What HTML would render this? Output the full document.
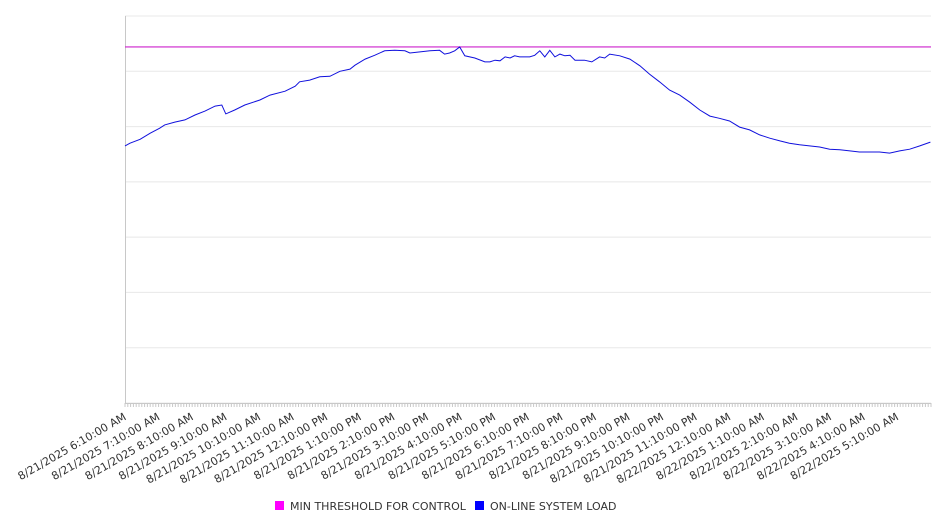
<!DOCTYPE html>
<html><head><meta charset="utf-8"><style>
body{margin:0;background:#fff;font-family:"DejaVu Sans","Liberation Sans",sans-serif;}
svg text{font-family:"DejaVu Sans","Liberation Sans",sans-serif;}
</style></head><body>
<svg id="chart" width="946" height="526" xmlns="http://www.w3.org/2000/svg">
<g id="grid"></g>
<g id="xaxis"></g>
<g id="series"></g>
<g>
<rect x="275" y="501" width="9" height="9" fill="#ff00ff"/>
<text x="290" y="510" font-size="11" fill="#333">MIN THRESHOLD FOR CONTROL</text>
<rect x="475" y="501" width="9" height="9" fill="#0000ff"/>
<text x="490" y="510" font-size="11" fill="#333">ON-LINE SYSTEM LOAD</text>
</g>
</svg>
<script>
const tickLabels=["8/21/2025 6:10:00 AM","8/21/2025 7:10:00 AM","8/21/2025 8:10:00 AM","8/21/2025 9:10:00 AM","8/21/2025 10:10:00 AM","8/21/2025 11:10:00 AM","8/21/2025 12:10:00 PM","8/21/2025 1:10:00 PM","8/21/2025 2:10:00 PM","8/21/2025 3:10:00 PM","8/21/2025 4:10:00 PM","8/21/2025 5:10:00 PM","8/21/2025 6:10:00 PM","8/21/2025 7:10:00 PM","8/21/2025 8:10:00 PM","8/21/2025 9:10:00 PM","8/21/2025 10:10:00 PM","8/21/2025 11:10:00 PM","8/22/2025 12:10:00 AM","8/22/2025 1:10:00 AM","8/22/2025 2:10:00 AM","8/22/2025 3:10:00 AM","8/22/2025 4:10:00 AM","8/22/2025 5:10:00 AM"];
const loadMinutes=[0,9,27,45,62,71,89,107,125,143,161,173,180,196,214,241,259,286,304,312,330,348,366,384,402,411,429,446,464,482,500,509,527,545,562,571,580,589,598,607,625,643,652,661,670,679,688,696,705,723,732,741,750,759,768,777,786,795,804,821,834,848,857,866,884,902,920,937,955,973,991,1009,1027,1045,1062,1080,1098,1116,1134,1152,1170,1187,1205,1223,1241,1259,1277,1295,1312,1330,1348,1366,1384,1402,1420,1439];
const loadValues=[465,470,477,488,497,503,508,512,521,528,537,539,523,530,539,548,557,564,573,581,584,590,591,600,604,611,622,629,637,638,637,633,635,637,638,631,633,637,644,628,624,617,617,620,619,626,624,628,626,626,629,637,626,638,626,631,628,629,620,620,617,626,624,631,628,622,610,595,581,566,557,544,530,519,515,510,499,494,485,479,474,470,467,465,463,459,458,456,454,454,454,452,456,459,465,472];
const thresholdValue=644;
const yGridValues=[0,100,200,300,400,500,600,700];

const NS="http://www.w3.org/2000/svg";
const L=125,R=931,T=16,B=403,XMAX=1440,YMAX=700;
const xs=m=>L+m/XMAX*(R-L);
const ys=v=>B-v/YMAX*(B-T);
function mk(tag,attrs,parent){const e=document.createElementNS(NS,tag);for(const k in attrs)e.setAttribute(k,attrs[k]);parent.appendChild(e);return e;}
const grid=document.getElementById('grid'),xa=document.getElementById('xaxis'),ser=document.getElementById('series');
yGridValues.forEach(v=>{const l=mk('line',{x1:L,x2:R,y1:ys(v),y2:ys(v),stroke:'#e8e8e8','stroke-width':1},grid);

});
const ax=mk('line',{x1:L+0.5,x2:L+0.5,y1:T,y2:B,stroke:'#c8c8c8'},xa);


const bx=mk('line',{x1:L,x2:R,y1:B+0.5,y2:B+0.5,stroke:'#c8c8c8'},xa);


for(let m=0;m<=XMAX;m+=5){const t=mk('line',{x1:xs(m),x2:xs(m),y1:B,y2:B+4,stroke:'#c8c8c8'},xa);

}
tickLabels.forEach((s,i)=>{const x=xs(i*60);const t=mk('text',{x:0,y:0,'font-size':11,fill:'#333','text-anchor':'end',transform:`translate(${x+2},${B+16}) rotate(-30)`},xa);t.textContent=s;

});
const th=mk('line',{x1:L,x2:R,y1:ys(thresholdValue),y2:ys(thresholdValue),stroke:'#cc22cc','stroke-width':1.2},ser);


const pts=loadMinutes.map((m,i)=>xs(m).toFixed(1)+','+ys(loadValues[i]).toFixed(1)).join(' ');
const pl=mk('polyline',{points:pts,fill:'none',stroke:'#1010dd','stroke-width':1},ser);


</script>
</body></html>
